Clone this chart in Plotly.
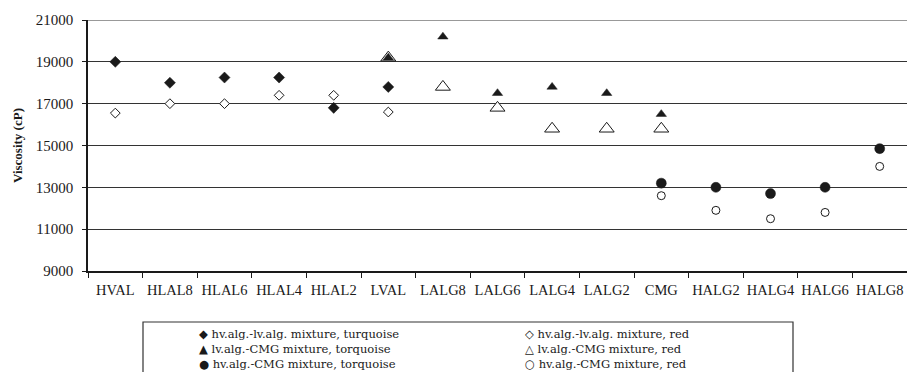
import plotly.graph_objects as go

# Sample codes along the x axis
samples = ["HVAL", "HLAL8", "HLAL6", "HLAL4", "HLAL2", "LVAL", "LALG8", "LALG6",
           "LALG4", "LALG2", "CMG", "HALG2", "HALG4", "HALG6", "HALG8"]

# hv.alg.-lv.alg. mixtures
hv_lv_cats = ["HVAL", "HLAL8", "HLAL6", "HLAL4", "HLAL2", "LVAL"]
hv_lv_turq = [19000, 18000, 18250, 18250, 16800, 17800]
hv_lv_red = [16550, 17000, 17000, 17400, 17400, 16600]

# lv.alg.-CMG mixtures
lv_cmg_cats = ["LVAL", "LALG8", "LALG6", "LALG4", "LALG2", "CMG"]
lv_cmg_turq = [19200, 20200, 17500, 17800, 17500, 16500]
lv_cmg_red = [19200, 17800, 16800, 15800, 15800, 15800]

# hv.alg.-CMG mixtures
hv_cmg_cats = ["CMG", "HALG2", "HALG4", "HALG6", "HALG8"]
hv_cmg_turq = [13200, 13000, 12700, 13000, 14850]
hv_cmg_red = [12600, 11900, 11500, 11800, 14000]

legend_left = ["\u25C6 hv.alg.-lv.alg. mixture, turquoise",
               "\u25B2 lv.alg.-CMG mixture, torquoise",
               "\u25CF hv.alg.-CMG mixture, torquoise"]
legend_right = ["\u25C7 hv.alg.-lv.alg. mixture, red",
                "\u25B3 lv.alg.-CMG mixture, red",
                "\u25CB hv.alg.-CMG mixture, red"]

W, H = 907, 372
ML, MR, MT, MB = 88, 0, 20, 101
PW, PH = W - ML - MR, H - MT - MB


def px_x(p):
    return (p - ML) / PW


def px_y(p):
    return (H - MB - p) / PH


INK = "#1a1a1a"
SERIF = "Liberation Serif, Times New Roman, serif"
LEGEND_FONT = "DejaVu Serif, serif"

fig = go.Figure()

# open (red) series first so filled markers sit on top
fig.add_trace(go.Scatter(x=hv_lv_cats, y=hv_lv_red, mode="markers",
                         marker=dict(symbol="diamond", size=7.5, color="white",
                                     line=dict(color=INK, width=1))))
fig.add_trace(go.Scatter(x=lv_cmg_cats, y=lv_cmg_red, mode="markers",
                         marker=dict(symbol="triangle-up", size=13, color="white",
                                     line=dict(color=INK, width=1))))
fig.add_trace(go.Scatter(x=hv_cmg_cats, y=hv_cmg_red, mode="markers",
                         marker=dict(symbol="circle", size=8, color="white",
                                     line=dict(color=INK, width=1))))
fig.add_trace(go.Scatter(x=hv_lv_cats, y=hv_lv_turq, mode="markers",
                         marker=dict(symbol="diamond", size=8.5, color=INK,
                                     line=dict(color=INK, width=0.5))))
fig.add_trace(go.Scatter(x=lv_cmg_cats, y=lv_cmg_turq, mode="markers",
                         marker=dict(symbol="triangle-up", size=9, color=INK,
                                     line=dict(color=INK, width=0.5))))
fig.add_trace(go.Scatter(x=hv_cmg_cats, y=hv_cmg_turq, mode="markers",
                         marker=dict(symbol="circle", size=10, color=INK,
                                     line=dict(color=INK, width=0.5))))

fig.update_layout(
    width=W, height=H,
    margin=dict(l=ML, r=MR, t=MT, b=MB),
    paper_bgcolor="white", plot_bgcolor="white",
    showlegend=False,
    font=dict(family=SERIF, color=INK, size=12),
    xaxis=dict(type="category", categoryorder="array", categoryarray=samples,
               range=[-0.5, len(samples) - 0.5],
               showgrid=False, showline=True, linecolor=INK, linewidth=1.5,
               ticks="outside", tickson="boundaries", ticklen=5, tickcolor=INK,
               ticklabelstandoff=5, tickangle=0,
               tickfont=dict(family=SERIF, size=14.5, color=INK), zeroline=False),
    yaxis=dict(range=[9000, 21000], dtick=2000, tick0=9000, tickformat="d",
               showgrid=True, gridcolor="#333333", gridwidth=1.2,
               showline=True, linecolor=INK, linewidth=1.5,
               ticks="outside", ticklen=4, tickcolor=INK,
               ticklabelstandoff=6,
               tickfont=dict(family=SERIF, size=15, color=INK), zeroline=False,
               title=dict(text="<b>Viscosity (cP)</b>", standoff=10,
                          font=dict(family=SERIF, size=13, color=INK))),
)

# top gridline is lighter
fig.add_shape(type="line", xref="paper", yref="y", x0=0, x1=1, y0=21000, y1=21000,
              line=dict(color="#777777", width=1.5))

# legend box
fig.add_shape(type="rect", xref="paper", yref="paper",
              x0=px_x(143), x1=px_x(793), y0=px_y(385), y1=px_y(322),
              line=dict(color="#333333", width=1.2), fillcolor="white", layer="above")

# legend entries, two columns of three lines
for col_x, lines in ((197, legend_left), (523, legend_right)):
    fig.add_annotation(xref="paper", yref="paper", x=px_x(col_x), y=px_y(324.5),
                       xanchor="left", yanchor="top", align="left", showarrow=False,
                       text="<br>".join(lines),
                       font=dict(family=LEGEND_FONT, size=11.5, color=INK))

fig.write_html("out.html")
